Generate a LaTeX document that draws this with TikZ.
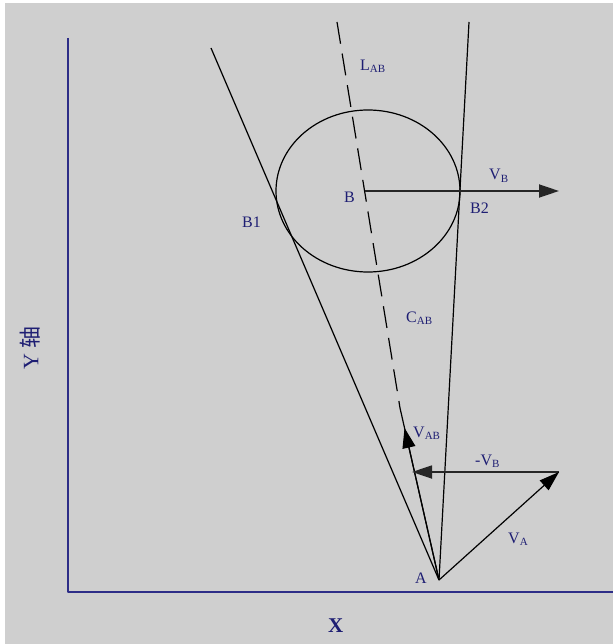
\documentclass[tikz,border=0pt]{standalone}
\usepackage{fontspec}
\setmainfont{Liberation Serif}
\newfontfamily\cjkfont{Noto Sans CJK SC}
\usetikzlibrary{arrows.meta,calc}
\definecolor{bggray}{RGB}{207,207,207}
\definecolor{lblue}{RGB}{30,30,115}
\definecolor{axblue}{RGB}{45,45,135}
\newcommand{\lowsub}[1]{\raisebox{-2pt}{\fontsize{11}{11}\selectfont #1}}
\begin{document}
\begin{tikzpicture}[x=1pt,y=-1pt,line join=round,
  lbl/.style={text=lblue,font=\fontsize{16}{16}\selectfont,inner sep=0pt,anchor=base west},
  thinline/.style={draw=black,line width=1.2pt},
  vecarrow/.style={-{Triangle[length=20pt,width=13pt]},draw=black!85,line width=1.8pt},
  tip/.style={-{Triangle[length=20pt,width=13pt]}}
]
\fill[white] (0,0) rectangle (613,644);
\fill[bggray] (5,3) rectangle (613,644);
\useasboundingbox (0,0) rectangle (613,644);

% axes
\coordinate (Ytop) at (68,38);
\coordinate (O) at (68,592);
\coordinate (Xend) at (613,592);
\draw[axblue,line width=2pt] (Ytop) -- (O) -- (Xend);

% points
\coordinate (A) at (439,580);
\coordinate (L1) at (211,48);
\coordinate (R1) at (469,22);
\coordinate (T) at (337,22);
\coordinate (P) at (400,408);
\coordinate (B) at (365,191);
\coordinate (VBtip) at (559,191);
\coordinate (VAtip) at (559,472);
\coordinate (nVBtip) at (412,472);
\coordinate (VABtip) at ($(A)!0.884!(P)$);

% circle around B
\draw[thinline] (368,191) ellipse [x radius=92pt,y radius=81pt];

% tangent lines
\draw[thinline] (A) -- (L1);
\draw[thinline] (A) -- (R1);

% dashed line L_AB
\draw[thinline,dash pattern=on 22pt off 10pt] (T) -- (P);
\draw[thinline] (A) -- (P);
\draw[thinline,tip] (A) -- (VABtip);

% vectors
\draw[vecarrow] (B) -- (VBtip);
\draw[vecarrow] (VAtip) -- (nVBtip);
\draw[thinline,tip] (A) -- (VAtip);

% labels
\node[lbl] (lLAB) at (360,71) {L\lowsub{AB}};
\node[lbl] (lB) at (344,203) {B};
\node[lbl] (lB1) at (242,227) {B1};
\node[lbl] (lB2) at (470,214) {B2};
\node[lbl] (lVB) at (489,180) {V\lowsub{B}};
\node[lbl] (lCAB) at (406,322) {C\lowsub{AB}};
\node[lbl] (lVAB) at (413,437) {V\lowsub{AB}};
\node[lbl] (lnVB) at (475,465) {-V\lowsub{B}};
\node[lbl] (lVA) at (508,543) {V\lowsub{A}};
\node[lbl] (lA) at (415,583) {A};
\node[lbl,font=\fontsize{21}{21}\selectfont\bfseries] (lX) at (328,632) {X};
\node[text=lblue,inner sep=0pt,rotate=90,font=\fontsize{22}{22}\selectfont] (lY) at (30,348) {Y {\cjkfont 轴}};
\end{tikzpicture}
\end{document}
